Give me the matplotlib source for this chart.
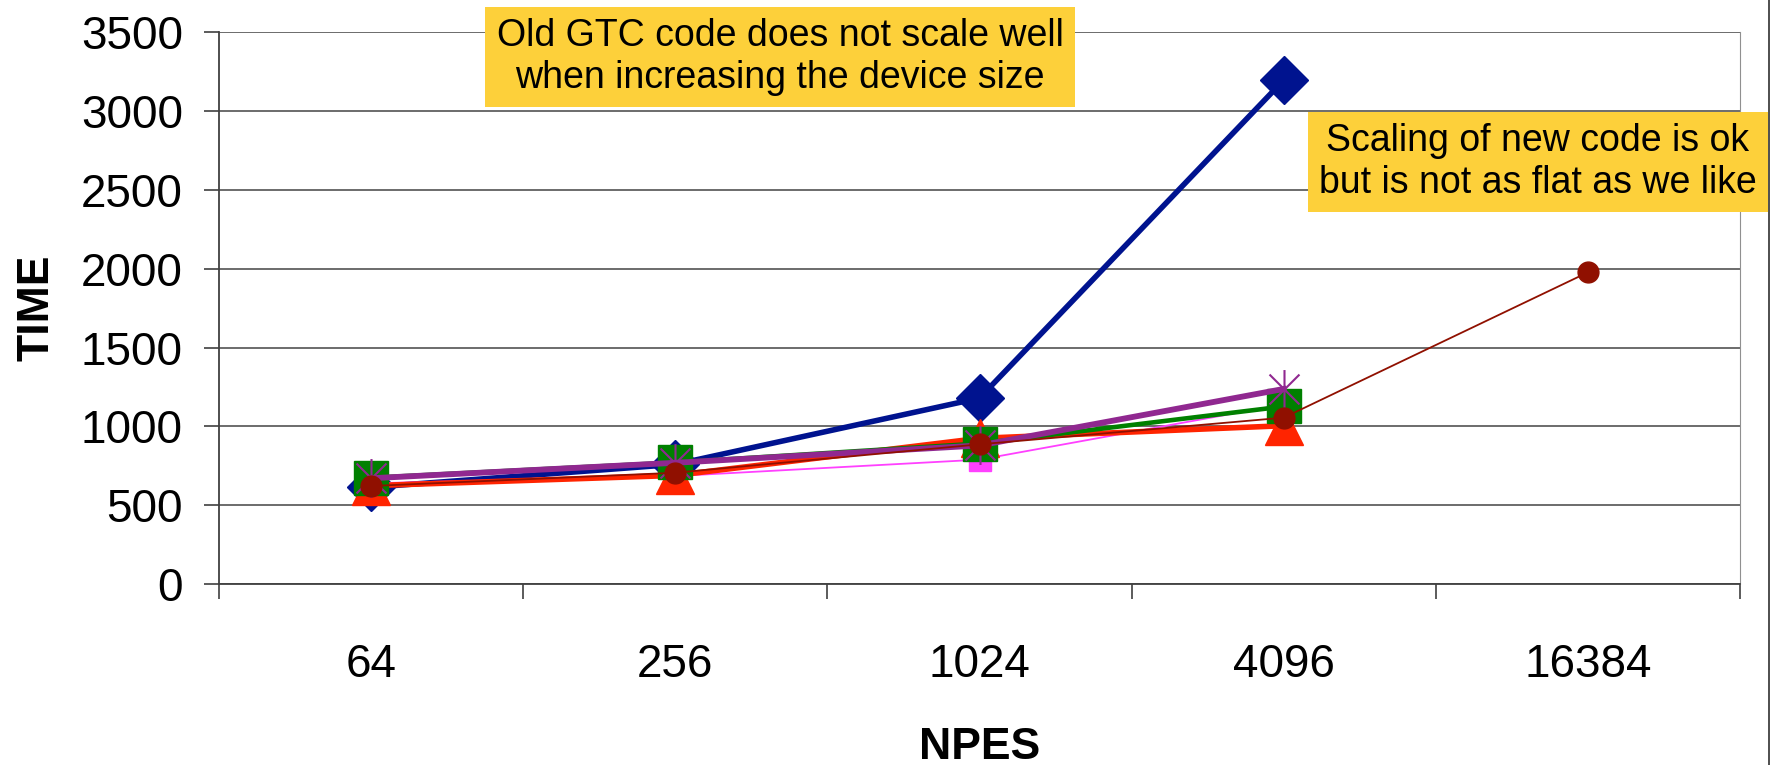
import numpy as np
import matplotlib
matplotlib.use("Agg")
import matplotlib.pyplot as plt
from matplotlib.path import Path
from matplotlib.lines import Line2D

plt.rcParams['font.family'] = ['Liberation Sans', 'DejaVu Sans']

npes = ['64', '256', '1024', '4096', '16384']

# timings per processor count (16384 only for the last run)
old_gtc = [615, 760, 1180, 3195]
pink_run = [640, 686, 790, 1140]
red_run = [625, 690, 925, 1005]
green_run = [675, 772, 892, 1127]
purple_run = [672, 770, 880, 1238]
new_gtc = [623, 707, 887, 1056, 1977]

# Excel-style star: an X with a vertical stroke through it
star = Path([(-1, -1), (1, 1), (-1, 1), (1, -1), (0, -1.3), (0, 1.3)],
            [Path.MOVETO, Path.LINETO, Path.MOVETO, Path.LINETO, Path.MOVETO, Path.LINETO])

fig = plt.figure(figsize=(17.75, 7.65), dpi=100)
ax = fig.add_axes([0.1234, 0.2362, 0.8569, 0.722])

x4 = np.arange(4)
x5 = np.arange(5)
ax.plot(x4, old_gtc, color='#00138F', lw=4.0, marker='D', ms=24, mec='#00138F', zorder=3)
ax.plot(x4, pink_run, color='#FF40FF', lw=1.3, marker='s', ms=16, zorder=3.1)
ax.plot(x4, red_run, color='#FF2400', lw=4.0, marker='^', ms=28, zorder=3.2)
ax.plot(x4, green_run, color='#008000', lw=3.3, marker='s', ms=25, zorder=3.3)
ax.plot(x4, purple_run, color='#902890', lw=4.2, marker=star, ms=28, mew=1.5, zorder=3.4)
ax.plot(x5, new_gtc, color='#901000', lw=1.3, marker='o', ms=15, zorder=3.5)

ax.set_xlim(-0.5, 4.5)
ax.set_ylim(0, 3500)
ax.set_yticks(np.arange(0, 3501, 500))
ax.yaxis.grid(True, color='#606060', lw=1.3)
ax.set_axisbelow(True)

# ticks sit on the category boundaries, labels in between
ax.set_xticks(np.arange(-0.5, 5.0, 1.0))
ax.set_xticklabels([])
ax.set_xticks(x5, minor=True)
ax.set_xticklabels(npes, minor=True)
ax.tick_params(axis='x', which='major', direction='out', length=11, width=1.2, color='#404040')
ax.tick_params(axis='x', which='minor', length=0, pad=42, labelsize=33)
ax.tick_params(axis='y', direction='out', length=11, width=1.2, color='#404040', pad=15, labelsize=33)

ax.spines['top'].set_visible(False)
ax.spines['right'].set_color('#909090')
ax.spines['left'].set_color('#404040')
ax.spines['bottom'].set_color('#404040')
ax.spines['left'].set_linewidth(1.3)
ax.spines['bottom'].set_linewidth(1.3)

ax.set_xlabel('NPES', fontsize=32, fontweight='bold')
ax.set_ylabel('TIME', fontsize=32, fontweight='bold')
ax.xaxis.set_label_coords(0.5, -0.258)
ax.yaxis.set_label_coords(-0.106, 0.5)

box = dict(boxstyle='square,pad=0.3', fc='#FDD03A', ec='none')
fig.text(780 / 1775, 1 - 57 / 765, 'Old GTC code does not scale well\nwhen increasing the device size',
         fontsize=27, ha='center', va='center', bbox=box, linespacing=1.2)
fig.text(1538 / 1775, 1 - 162 / 765, 'Scaling of new code is ok\nbut is not as flat as we like',
         fontsize=27, ha='center', va='center', bbox=box, linespacing=1.2)

# chart area border on the right
fig.add_artist(Line2D([1769 / 1775, 1769 / 1775], [0, 1], color='#303030', lw=1.2))

plt.savefig('out.png', dpi=100)
